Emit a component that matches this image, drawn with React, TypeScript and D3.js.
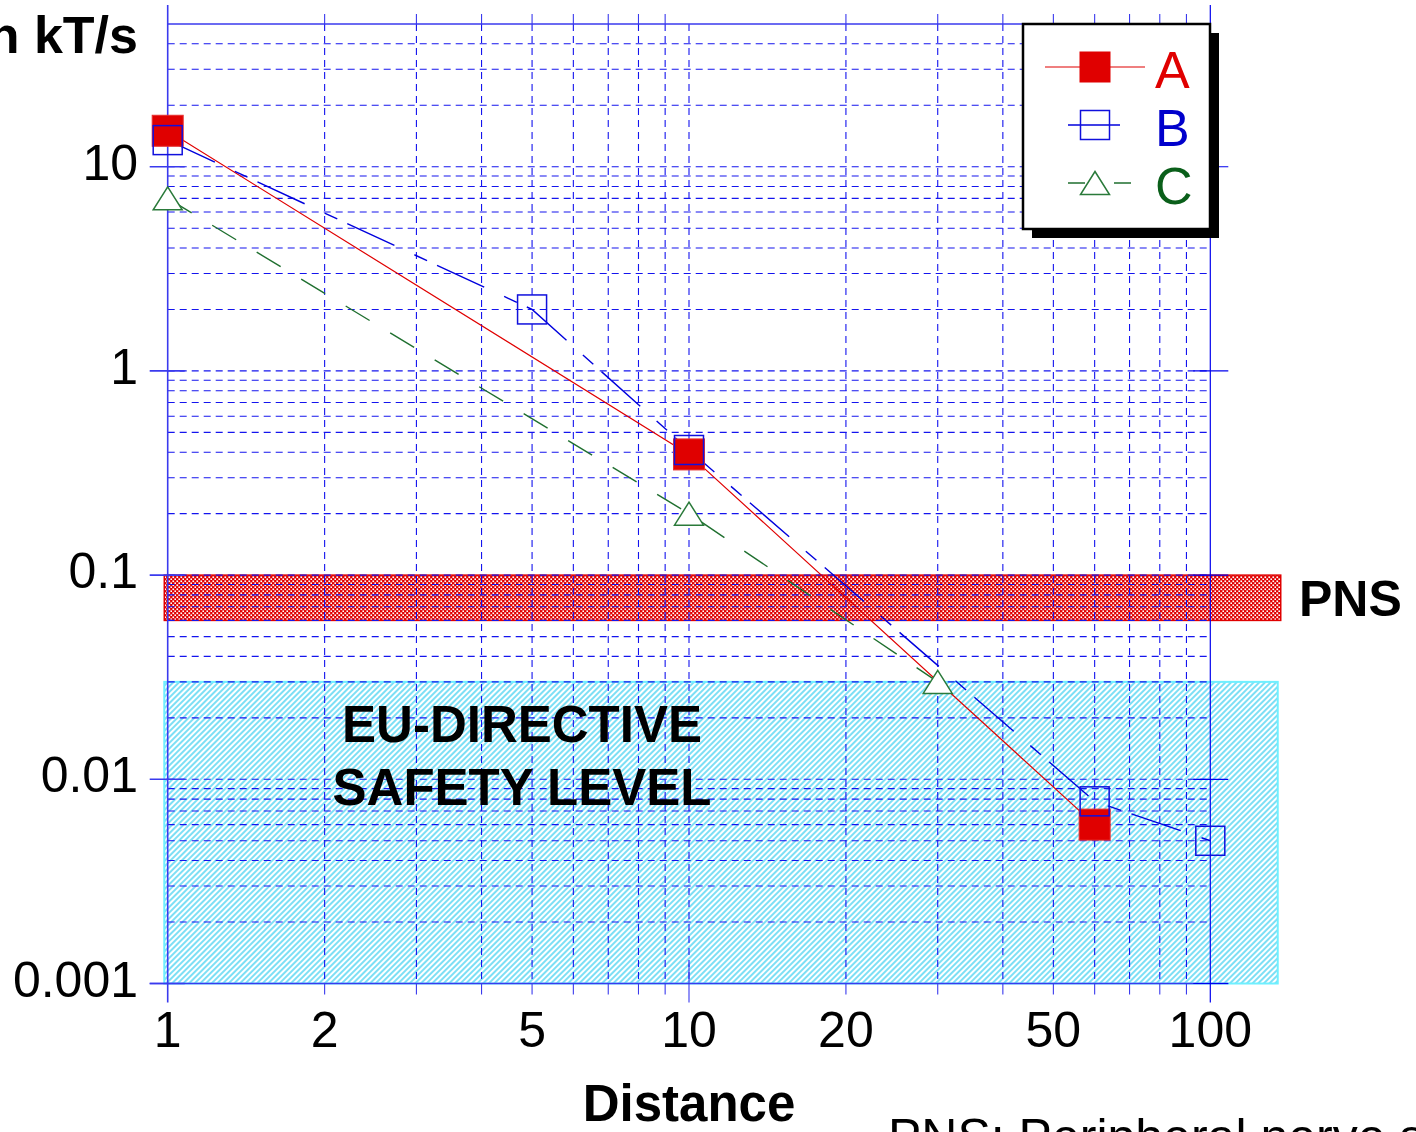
import React, { useEffect, useRef } from 'react';
import * as d3 from 'd3';

// series (distance -> value in kT/s)
const distA = [1, 10, 60];
const valA = [15, 0.39, 0.006];
const distB = [1, 5, 10, 60, 100];
const valB = [13.5, 2, 0.41, 0.0078, 0.005];
const distC = [1, 10, 30];
const valC = [7, 0.2, 0.03];

const seriesNames = ['A', 'B', 'C'];

const xTickValues = [1, 2, 5, 10, 20, 50, 100];
const xTickLabels = ['1', '2', '5', '10', '20', '50', '100'];
const yTickValues = [0.001, 0.01, 0.1, 1, 10];
const yTickLabels = ['0.001', '0.01', '0.1', '1', '10'];

// shaded bands [xMin, xMax, yMin, yMax]
const pnsBand = [0.985, 136.5, 0.06, 0.1];
const euBand = [0.985, 134.7, 0.001, 0.03];

const FONT = '"Liberation Sans", Arial, Helvetica, sans-serif';

export default function App() {
  const ref = useRef<SVGSVGElement>(null);

  useEffect(() => {
    const svg = d3.select(ref.current);
    svg.selectAll('*').remove();

    const x = d3.scaleLog().domain([1, 100]).range([167.7, 1210.3]);
    const y = d3.scaleLog().domain([0.001, 50]).range([983.5, 24]);
    const [x0, x1] = x.range();
    const [y0, y1] = y.range();

    const defs = svg.append('defs');
    // red cross hatch: red with a diagonal lattice of white holes
    const pr = defs.append('pattern')
      .attr('id', 'pnsHatch')
      .attr('patternUnits', 'userSpaceOnUse')
      .attr('width', 4).attr('height', 4);
    pr.append('rect').attr('width', 4).attr('height', 4).attr('fill', '#e00000');
    pr.append('rect').attr('x', 0.4).attr('y', 0.4).attr('width', 1.7).attr('height', 1.7).attr('fill', '#fff');
    pr.append('rect').attr('x', 2.4).attr('y', 2.4).attr('width', 1.7).attr('height', 1.7).attr('fill', '#fff');
    // cyan diagonal hatch
    const pc = defs.append('pattern')
      .attr('id', 'euHatch')
      .attr('patternUnits', 'userSpaceOnUse')
      .attr('width', 4).attr('height', 4)
      .attr('patternTransform', 'rotate(45)');
    pc.append('rect').attr('width', 4).attr('height', 4).attr('fill', '#fff');
    pc.append('line').attr('x1', 1).attr('y1', 0).attr('x2', 1).attr('y2', 4)
      .attr('stroke', '#45d2f2').attr('stroke-width', 1.4);

    // bands
    svg.append('rect')
      .attr('x', x(euBand[0])).attr('y', y(euBand[3]))
      .attr('width', x(euBand[1]) - x(euBand[0]))
      .attr('height', y(euBand[2]) - y(euBand[3]))
      .attr('fill', 'url(#euHatch)')
      .attr('stroke', '#6ff0ff').attr('stroke-width', 2);
    svg.append('rect')
      .attr('x', x(pnsBand[0])).attr('y', y(pnsBand[3]))
      .attr('width', x(pnsBand[1]) - x(pnsBand[0]))
      .attr('height', y(pnsBand[2]) - y(pnsBand[3]))
      .attr('fill', 'url(#pnsHatch)')
      .attr('stroke', '#e00000').attr('stroke-width', 1.5);

    // dashed grid
    const grid = svg.append('g')
      .attr('stroke', '#1414ee').attr('stroke-width', 1.1)
      .attr('stroke-dasharray', '7,5');
    grid.selectAll('.gx')
      .data(x.ticks().filter(d => d > 1 && d < 100))
      .enter().append('line')
      .attr('x1', d => x(d)).attr('x2', d => x(d))
      .attr('y1', y1).attr('y2', y0);
    grid.selectAll('.gy')
      .data(y.ticks().filter(d => d > 0.001 && d < 50))
      .enter().append('line')
      .attr('y1', d => y(d)).attr('y2', d => y(d))
      .attr('x1', x0).attr('x2', x1);

    // frame + ticks
    const ax = svg.append('g').attr('stroke', '#3a3aee').attr('stroke-width', 1.6);
    ax.append('line').attr('x1', x0).attr('x2', x1).attr('y1', y1).attr('y2', y1);
    ax.append('line').attr('x1', x0 - 18).attr('x2', x1 + 18).attr('y1', y0).attr('y2', y0);
    ax.append('line').attr('x1', x0).attr('x2', x0).attr('y1', y1 - 19).attr('y2', y0 + 19);
    ax.append('line').attr('x1', x1).attr('x2', x1).attr('y1', y1 - 19).attr('y2', y0 + 19)
      .attr('stroke', '#0000ee').attr('stroke-width', 1.2);
    const minorX = x.ticks().filter(d => ![1, 10, 100].includes(d));
    ax.selectAll('.mxb').data(minorX).enter().append('line')
      .attr('x1', d => x(d)).attr('x2', d => x(d))
      .attr('y1', y0).attr('y2', y0 + 11).attr('stroke-width', 1.1);
    ax.selectAll('.mxt').data(minorX).enter().append('line')
      .attr('x1', d => x(d)).attr('x2', d => x(d))
      .attr('y1', y1 - 10).attr('y2', y1).attr('stroke-width', 1.1);
    ax.selectAll('.Mx').data([10]).enter().append('line')
      .attr('x1', d => x(d)).attr('x2', d => x(d))
      .attr('y1', y0 - 19).attr('y2', y0 + 19).attr('stroke-width', 1.1);
    ax.selectAll('.Myl').data(yTickValues).enter().append('line')
      .attr('y1', d => y(d)).attr('y2', d => y(d))
      .attr('x1', x0 - 18).attr('x2', x0 + 17);
    ax.selectAll('.Myr').data(yTickValues).enter().append('line')
      .attr('y1', d => y(d)).attr('y2', d => y(d))
      .attr('x1', x1 - 17).attr('x2', x1 + 18).attr('stroke', '#0000ee').attr('stroke-width', 1.2);

    // tick labels
    svg.append('g').selectAll('text').data(xTickValues).enter().append('text')
      .attr('x', d => x(d)).attr('y', y0 + 63)
      .attr('text-anchor', 'middle')
      .style('font', `50px ${FONT}`)
      .text((d, i) => xTickLabels[i]);
    svg.append('g').selectAll('text').data(yTickValues).enter().append('text')
      .attr('x', 138).attr('y', d => y(d) + 13)
      .attr('text-anchor', 'end')
      .style('font', `50px ${FONT}`)
      .text((d, i) => yTickLabels[i]);

    // axis titles + annotations (the y title and the footnote run off the page, as in the source)
    svg.append('text').attr('x', 138).attr('y', 53).attr('text-anchor', 'end')
      .style('font', `bold 52px ${FONT}`).text('in kT/s');
    svg.append('text').attr('x', (x0 + x1) / 2).attr('y', 1121).attr('text-anchor', 'middle')
      .style('font', `bold 51px ${FONT}`).text('Distance');
    svg.append('text').attr('x', 888).attr('y', 1154)
      .style('font', `50px ${FONT}`).text('PNS: Peripheral nerve stimulation');
    svg.append('text').attr('x', 1299).attr('y', 616)
      .style('font', `bold 50px ${FONT}`).text('PNS');
    svg.append('text').attr('x', 522).attr('y', 742).attr('text-anchor', 'middle')
      .style('font', `bold 51px ${FONT}`).text('EU-DIRECTIVE');
    svg.append('text').attr('x', 522).attr('y', 805).attr('text-anchor', 'middle')
      .style('font', `bold 51px ${FONT}`).text('SAFETY LEVEL');

    // lines
    const line = d3.line<[number, number]>().x(d => x(d[0])).y(d => y(d[1]));
    const ptsA = distA.map((d, i) => [d, valA[i]] as [number, number]);
    const ptsB = distB.map((d, i) => [d, valB[i]] as [number, number]);
    const ptsC = distC.map((d, i) => [d, valC[i]] as [number, number]);

    const styles = [
      { color: '#e00000', dash: null, width: 1.2 },
      { color: '#0000dd', dash: '52,22,14,11', width: 1.4 },
      { color: '#1f6f2f', dash: '28,24', width: 1.4 },
    ];

    svg.append('path').datum(ptsC).attr('d', line).attr('fill', 'none')
      .attr('stroke', styles[2].color).attr('stroke-width', styles[2].width)
      .attr('stroke-dasharray', styles[2].dash);
    svg.append('path').datum(ptsA).attr('d', line).attr('fill', 'none')
      .attr('stroke', styles[0].color).attr('stroke-width', styles[0].width);
    svg.append('path').datum(ptsB).attr('d', line).attr('fill', 'none')
      .attr('stroke', styles[1].color).attr('stroke-width', styles[1].width)
      .attr('stroke-dasharray', styles[1].dash);

    // markers
    const tri = 'M0,-11.5L14.5,11.5L-14.5,11.5Z';
    svg.append('g').selectAll('path').data(ptsC).enter().append('path')
      .attr('d', tri).attr('transform', d => `translate(${x(d[0])},${y(d[1])})`)
      .attr('fill', '#fff').attr('stroke', '#2a7a3a').attr('stroke-width', 1.5);
    svg.append('g').selectAll('rect').data(ptsA).enter().append('rect')
      .attr('x', d => x(d[0]) - 15.5).attr('y', d => y(d[1]) - 15.5)
      .attr('width', 31).attr('height', 31)
      .attr('fill', '#e00000').attr('stroke', '#e63030').attr('stroke-width', 1);
    svg.append('g').selectAll('rect').data(ptsB).enter().append('rect')
      .attr('x', d => x(d[0]) - 14.5).attr('y', d => y(d[1]) - 14.5)
      .attr('width', 29).attr('height', 29)
      .attr('fill', 'none').attr('stroke', '#1010dd').attr('stroke-width', 1.5);

    // legend box with drop shadow
    const L = 1023, T = 24, W = 187, H = 205;
    svg.append('rect').attr('x', L + 9).attr('y', T + 9).attr('width', W).attr('height', H)
      .attr('fill', '#000');
    svg.append('rect').attr('x', L).attr('y', T).attr('width', W).attr('height', H)
      .attr('fill', '#fff').attr('stroke', '#000').attr('stroke-width', 2.5);

    const textColors = ['#e00000', '#0000cc', '#0a5f1a'];
    const rowY = [T + 43, T + 101, T + 159];
    const lg = svg.append('g');
    seriesNames.forEach((name, i) => {
      const cy = rowY[i];
      const st = styles[i];
      lg.append('line')
        .attr('x1', i === 0 ? L + 22 : L + 45).attr('x2', i === 0 ? L + 122 : L + 116)
        .attr('y1', cy).attr('y2', cy)
        .attr('stroke', st.color).attr('stroke-width', st.width)
        .attr('stroke-dasharray', i === 2 ? '17,29' : st.dash);
      if (i === 0) {
        lg.append('rect').attr('x', L + 72 - 15.5).attr('y', cy - 15.5)
          .attr('width', 31).attr('height', 31).attr('fill', '#e00000');
      } else if (i === 1) {
        lg.append('rect').attr('x', L + 72 - 14.5).attr('y', cy - 14.5)
          .attr('width', 29).attr('height', 29)
          .attr('fill', 'none').attr('stroke', '#1010dd').attr('stroke-width', 1.5);
      } else {
        lg.append('path').attr('d', tri).attr('transform', `translate(${L + 72},${cy})`)
          .attr('fill', '#fff').attr('stroke', '#2a7a3a').attr('stroke-width', 1.5);
      }
      lg.append('text').attr('x', L + 132).attr('y', cy + 21)
        .attr('fill', textColors[i])
        .style('font', `52px ${FONT}`).text(name);
    });
  }, []);

  return (
    <svg
      ref={ref}
      width={1416}
      height={1132}
      style={{ position: 'absolute', left: 0, top: 0, background: '#fff' }}
    />
  );
}
